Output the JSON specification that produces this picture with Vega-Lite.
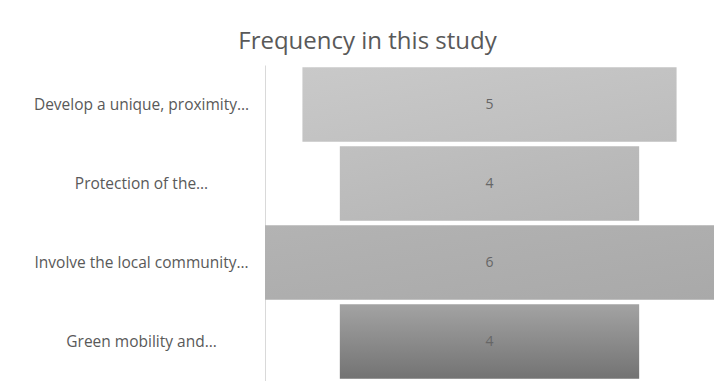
{
  "$schema": "https://vega.github.io/schema/vega-lite/v6.json",
  "width": 449,
  "height": 316,
  "autosize": {"type": "none"},
  "padding": {"left": 265, "top": 65, "right": 0, "bottom": 0},
  "background": "white",
  "title": {"text": "Frequency in this study", "fontSize": 24, "font": "Open Sans", "fontWeight": "normal", "color": "#595959", "anchor": "middle", "dx": -122, "offset": 11},
  "data": {"values": [
    {"item": "Develop a unique, proximity…", "freq": 5},
    {"item": "Protection of the…", "freq": 4},
    {"item": "Involve the local community…", "freq": 6},
    {"item": "Green mobility and…", "freq": 4}
  ]},
  "encoding": {
    "y": {"field": "item", "type": "nominal", "sort": null,
      "scale": {"paddingInner": 0.06, "paddingOuter": 0.03},
      "axis": {"title": null, "domain": true, "domainColor": "#d9d9d9", "ticks": false, "tickSize": 0, "labelAlign": "center", "labelPadding": 124, "labelFontSize": 15.5, "labelColor": "#595959", "labelFont": "Open Sans", "labelLimit": 300}}
  },
  "layer": [
    {
      "mark": {"type": "bar"},
      "encoding": {
        "x": {"field": "freq", "type": "quantitative", "stack": "center", "scale": {"domain": [0, 6], "nice": false, "zero": false}, "axis": null},
        "fill": {
          "condition": [
            {"test": "datum.item === 'Develop a unique, proximity…'", "value": {"gradient": "linear", "x1": 0, "y1": 0, "x2": 1, "y2": 1, "stops": [{"offset": 0, "color": "#c9c9c9"}, {"offset": 1, "color": "#bdbdbd"}]}},
            {"test": "datum.item === 'Protection of the…'", "value": {"gradient": "linear", "x1": 0, "y1": 0, "x2": 1, "y2": 1, "stops": [{"offset": 0, "color": "#c0c0c0"}, {"offset": 1, "color": "#b4b4b4"}]}},
            {"test": "datum.item === 'Involve the local community…'", "value": {"gradient": "linear", "x1": 0, "y1": 0, "x2": 1, "y2": 1, "stops": [{"offset": 0, "color": "#b3b3b3"}, {"offset": 1, "color": "#a9a9a9"}]}}
          ],
          "value": {"gradient": "linear", "x1": 0, "y1": 0, "x2": 0, "y2": 1, "stops": [{"offset": 0, "color": "#a3a3a3"}, {"offset": 1, "color": "#737373"}]}
        }
      }
    },
    {
      "mark": {"type": "text", "font": "Open Sans", "fontSize": 14, "color": "#666666"},
      "encoding": {
        "x": {"datum": 3, "type": "quantitative"},
        "text": {"field": "freq", "type": "quantitative"}
      }
    }
  ],
  "config": {"view": {"stroke": null}}
}
